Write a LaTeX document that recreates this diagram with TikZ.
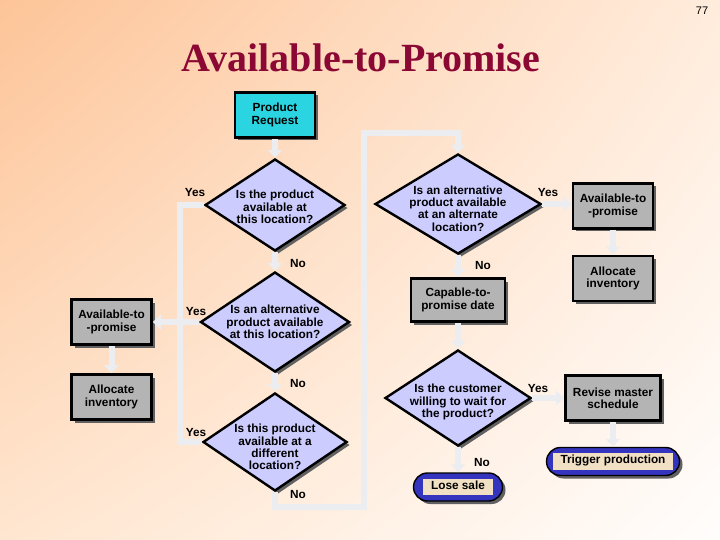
\documentclass[tikz,border=0pt]{standalone}
\usepackage{fontspec}
\setmainfont{Liberation Sans}
\newfontfamily\titlefont{Liberation Serif}
\usetikzlibrary{shapes.geometric, arrows.meta, shadows, shadings}
\definecolor{bgtl}{RGB}{253,196,152}
\definecolor{bgtr}{RGB}{255,236,220}
\definecolor{bgbl}{RGB}{255,230,208}
\definecolor{bgbr}{RGB}{255,253,252}
\definecolor{titlered}{RGB}{140,8,52}
\definecolor{reqcyan}{RGB}{42,212,224}
\definecolor{qlilac}{RGB}{204,204,255}
\definecolor{boxgray}{RGB}{180,180,180}
\definecolor{capblue}{RGB}{52,52,190}
\definecolor{capwheat}{RGB}{242,224,196}
\definecolor{connwhite}{RGB}{236,237,240}
\setlength{\fboxsep}{2pt}

\begin{document}
\begin{tikzpicture}[x=1pt, y=-1pt,
    txt/.style={font=\fontsize{11.8}{12.3}\selectfont\bfseries, align=center},
    shade3/.style={drop shadow={shadow xshift=3pt, shadow yshift=-3pt, fill=black!62, opacity=1}},
    box/.style={
      txt, draw=black, line width=2.6pt, fill=boxgray, shade3,
      minimum width=80pt, minimum height=45pt, inner sep=2pt
    },
    req/.style={box, fill=reqcyan},
    q/.style={
      txt, diamond, aspect=1.6, draw=black, line width=2.4pt, fill=qlilac, shade3,
      inner xsep=-12pt, inner ysep=-4pt
    },
    endcap/.style={
      txt, draw=black, line width=1.4pt, fill=capblue, rounded corners=14pt, shade3,
      minimum height=28pt, inner xsep=4pt, inner ysep=2pt
    },
    lbl/.style={txt},
    arr/.style={connwhite, line width=6pt, -{Triangle[length=8pt, width=14pt]}},
    bus/.style={connwhite, line width=6pt},
  ]
    \useasboundingbox (0,0) rectangle (720,540);
    \shade[upper left=bgtl, upper right=bgtr, lower left=bgbl, lower right=bgbr] (0,0) rectangle (720,540);

    \node[font=\fontsize{11}{11}\selectfont, anchor=base] (pgno) at (702,15) {77};
    \node[font=\titlefont\fontsize{40}{40}\selectfont\bfseries, text=titlered, anchor=base] (title) at (361,72) {Available-to-Promise};

    \node[req] (req) at (275,115) {Product\\Request};
    \node[q, minimum width=140pt, minimum height=92pt] (d1) at (275,205) {\rule{0pt}{12.6pt}Is the product\\available at\\this location?};
    \node[q, minimum width=149pt, minimum height=100pt] (d2) at (275,322) {Is an alternative\\product available\\at this location?};
    \node[q, minimum width=144pt, minimum height=98pt] (d3) at (275,442) {\rule{0pt}{18.6pt}Is this product\\available at a\\different\\location?};
    \node[box] (atp1) at (111.5,322) {Available-to\\-promise};
    \node[box] (alloc1) at (111.5,397) {Allocate\\inventory};

    \node[q, minimum width=166pt, minimum height=100pt] (d4) at (458,204) {\rule{0pt}{17.6pt}Is an alternative\\product available\\at an alternate\\location?};
    \node[box] (atp2) at (613,206) {Available-to\\-promise};
    \node[box] (alloc2) at (613,278.5) {Allocate\\inventory};
    \node[box, minimum width=94pt, minimum height=43pt] (ctp) at (458,300) {Capable-to-\\promise date};
    \node[q, minimum width=146pt, minimum height=96pt] (d5) at (458,398) {\rule{0pt}{16.6pt}Is the customer\\willing to wait for\\the product?};
    \node[box, minimum width=95pt] (rms) at (613,398) {Revise master\\schedule};
    \node[endcap, minimum width=133pt] (trig) at (613,461.5) {\colorbox{capwheat}{\strut\hspace{6pt}Trigger production\hspace{6pt}}};
    \node[endcap, minimum width=89pt] (lose) at (458,487) {\colorbox{capwheat}{\strut\hspace{6pt}Lose sale\hspace{6pt}}};

    \node[lbl] (yes1) at (195,192) {Yes};
    \node[lbl] (no1) at (298,263) {No};
    \node[lbl] (yes2) at (196,311) {Yes};
    \node[lbl] (no2) at (298,383) {No};
    \node[lbl] (yes3) at (196,432) {Yes};
    \node[lbl] (no3) at (298,494) {No};
    \node[lbl] (yes4) at (548,192) {Yes};
    \node[lbl] (no4) at (483,265) {No};
    \node[lbl] (yes5) at (538,388) {Yes};
    \node[lbl] (no5) at (482,462) {No};

    \coordinate (lbus) at (180,322);
    \coordinate (lowturn) at (364,507);
    \coordinate (topturn) at (364,133);

    \draw[arr] (req) -- (d1);
    \draw[arr] (d1) -- (d2);
    \draw[arr] (d2) -- (d3);
    \draw[bus] (d1.west) -| (lbus);
    \draw[bus] (d3.west) -| (lbus);
    \draw[arr] (d2.west) -- (atp1.east);
    \draw[arr] (atp1) -- (alloc1);
    \draw[arr] (d3.south) |- (lowturn) -- (topturn) -| (d4.north);
    \draw[arr] (d4.east) -- (d4.east -| atp2.west);
    \draw[arr] (atp2) -- (alloc2);
    \draw[arr] (d4) -- (ctp);
    \draw[arr] (ctp) -- (d5);
    \draw[arr] (d5.east) -- (rms.west);
    \draw[arr] (rms) -- (trig);
    \draw[arr] (d5) -- (lose);
  \end{tikzpicture}
\end{document}
